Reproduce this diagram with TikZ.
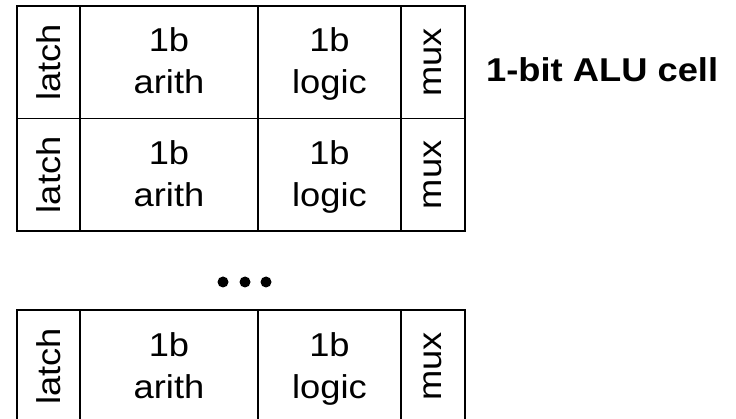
\documentclass[tikz,border=0pt]{standalone}
\usepackage{fontspec}
\setmainfont{Liberation Sans}[FakeStretch=1.1]
\begin{document}
\begin{tikzpicture}[x=1pt,y=-1pt,
  cell/.style={draw, line width=1.5pt, inner sep=0pt, outer sep=0pt},
  lbl/.style={align=center, inner sep=0pt, font=\fontsize{33}{42}\selectfont},
  rlbl/.style={rotate=90, inner sep=0pt, font=\fontsize{33}{42}\selectfont},
  dot/.style={circle, fill, inner sep=0pt, minimum size=11pt}]
\useasboundingbox (0,0) rectangle (736,419);
% one ALU slice: latch | 1b arith | 1b logic | mux
\foreach \r/\yc in {a/62.25, b/174.75, c/366.5}{
  \node[cell, minimum width=63pt,  minimum height=112.5pt] (latch\r) at (48.5,\yc) {};
  \node[cell, minimum width=178pt, minimum height=112.5pt] (arith\r) at (169,\yc) {};
  \node[cell, minimum width=143pt, minimum height=112.5pt] (logic\r) at (329.5,\yc) {};
  \node[cell, minimum width=64pt,  minimum height=112.5pt] (mux\r) at (433,\yc) {};
  \node[rlbl] at (latch\r) {latch};
  \node[lbl] at ([yshift=-2pt]arith\r.center) {1b\\arith\vphantom{g}};
  \node[lbl] at ([yshift=-2pt]logic\r.center) {1b\\logic};
  \node[rlbl] at (mux\r) {mux};
}
% heavier divider between arith and logic
\foreach \r in {a,b,c}
  \draw[line width=2.3pt] (arith\r.north east) -- (arith\r.south east);
\node[anchor=base west, inner sep=0pt, font=\fontsize{33}{40}\selectfont\bfseries]
  (title) at (486,82) {1-bit ALU cell};
% ellipsis between slices
\node[dot] (d1) at (223,282) {};
\node[dot] (d2) at (245,282) {};
\node[dot] (d3) at (266,282) {};
\end{tikzpicture}
\end{document}
